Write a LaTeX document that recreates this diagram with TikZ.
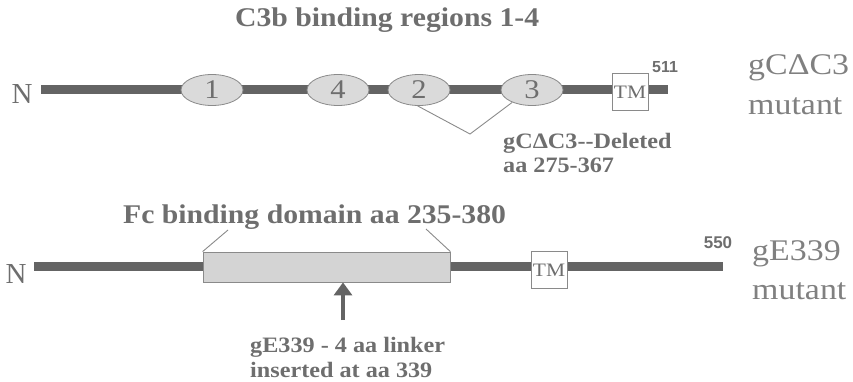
\documentclass[tikz,border=0pt]{standalone}
\usepackage{fontspec}
\usetikzlibrary{shapes.geometric,arrows.meta}
\setmainfont{Liberation Serif}
\newfontfamily\boldlbl[FakeStretch=1.1]{Liberation Serif}
\newfontfamily\reglbl[FakeStretch=1.13]{Liberation Serif}
\newfontfamily\numlbl{Liberation Sans}
\definecolor{txt}{HTML}{6E6E6E}
\definecolor{txtlight}{HTML}{808080}
\definecolor{chain}{HTML}{646464}
\definecolor{ellfill}{HTML}{DADADA}
\definecolor{boxfill}{HTML}{D4D4D4}
\definecolor{edge}{HTML}{8A8A8A}
\tikzset{
  chainline/.style={draw=chain,line width=9pt},
  region/.style={ellipse,draw=edge,fill=ellfill,line width=0.8pt,minimum width=62pt,minimum height=31pt,inner sep=0pt,font=\reglbl\fontsize{27}{27}\selectfont,text=txt},
  tmbox/.style={rectangle,draw=edge,fill=white,line width=0.8pt,minimum width=36pt,minimum height=37pt,inner sep=0pt,font=\reglbl\fontsize{19}{19}\selectfont,text=txt},
  boldtext/.style={anchor=base west,inner sep=0pt,text=txt,font=\boldlbl\bfseries\fontsize{#1}{#1}\selectfont},
  bigtext/.style={anchor=base west,inner sep=0pt,text=txtlight,font=\reglbl\fontsize{30}{30}\selectfont},
  endnum/.style={inner sep=0pt,text=txt,font=\numlbl\bfseries\fontsize{#1}{#1}\selectfont},
  nterm/.style={inner sep=0pt,text=txt,font=\fontsize{29}{29}\selectfont},
  callout/.style={draw=edge,line width=0.9pt},
}
\begin{document}
\begin{tikzpicture}[x=1pt,y=-1pt]
\useasboundingbox (0,0) rectangle (853,382);
% ---- top construct
\node[boldtext=27] (title) at (235,27) {C3b binding regions 1-4};
\node[nterm] (n1) at (22,94) {N};
\coordinate (c1s) at (41,90);
\coordinate (c1e) at (668,90);
\draw[chainline] (c1s) -- (c1e);
\node[region] (e1) at (212,90) {1};
\node[region] (e4) at (338,90) {4};
\node[region] (e2) at (419,90) {2};
\node[region] (e3) at (532,90) {3};
\node[tmbox] (tm1) at (630,92) {TM};
\node[endnum=16] (n511) at (665,67.5) {511};
\coordinate (vtx) at (470,134);
\draw[callout] (e2.-95) -- (vtx) -- (e3.-148);
\node[boldtext=22] (del1) at (503,149) {gCΔC3--Deleted};
\node[boldtext=22] (del2) at (503,173) {aa 275-367};
\node[bigtext] (lab1) at (748,75) {gCΔC3};
\node[bigtext] (lab1b) at (748,115) {mutant};
% ---- bottom construct
\node[boldtext=27] (fc) at (123,223) {Fc binding domain aa 235-380};
\node[nterm] (n2) at (16,274) {N};
\coordinate (c2s) at (34,266);
\coordinate (c2e) at (723,266);
\draw[chainline] (c2s) -- (c2e);
\node[rectangle,draw=edge,fill=boxfill,line width=0.8pt,minimum width=247pt,minimum height=30pt,inner sep=0pt] (fcbox) at (326.5,267) {};
\node[tmbox] (tm2) at (549,270) {TM};
\node[endnum=17] (n550) at (718,243) {550};
\coordinate (fcl) at (228,230);
\coordinate (fcr) at (426,229);
\draw[callout] (fcbox.north west) -- (fcl);
\draw[callout] (fcbox.north east) -- (fcr);
\coordinate (arrs) at (343,320);
\draw[chain,line width=4pt,-{Triangle[length=13pt,width=18pt]}] (arrs) -- (fcbox.south -| arrs);
\node[boldtext=22] (ins1) at (250,352) {gE339 - 4 aa linker};
\node[boldtext=22] (ins2) at (250,377) {inserted at aa 339};
\node[bigtext] (lab2) at (752,260) {gE339};
\node[bigtext] (lab2b) at (752,299) {mutant};
\end{tikzpicture}
\end{document}
